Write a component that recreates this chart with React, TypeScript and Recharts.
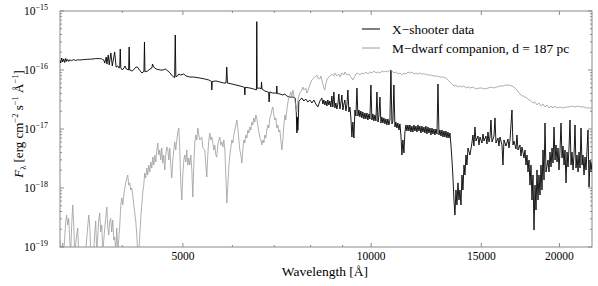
import { Customized, Line, LineChart, XAxis, YAxis } from "recharts";

// wavelength in Angstrom, flux in units of 1e-17 erg cm^-2 s^-1 A^-1
const XSHOOTER: [number, number][] = [
  [3180, 14.5], [3189, 13.2], [3200, 16.0], [3212, 13.7], [3224, 15.4], [3236, 13.4], [3248, 15.7], [3259, 14.0],
  [3271, 15.1], [3284, 14.0], [3296, 14.9], [3320, 14.4], [3345, 15.0], [3369, 14.5], [3394, 14.9], [3420, 14.8],
  [3471, 15.0], [3523, 15.2], [3574, 15.3], [3627, 15.6], [3681, 15.6], [3708, 15.4], [3722, 15.0],
  [3736, 14.8], [3750, 13.1], [3770, 16.6], [3780, 12.6], [3798, 18.0], [3812, 12.2], [3835, 19.4], [3855, 11.7],
  [3889, 20.2], [3910, 11.2], [3935, 11.7], [3950, 10.8], [3962, 11.0], [3970, 22.7], [3978, 10.9], [4000, 10.0],
  [4025, 10.8], [4040, 11.7], [4060, 10.4], [4094, 10.0], [4102, 24.5], [4110, 10.0], [4150, 9.62], [4180, 10.4],
  [4205, 11.2], [4230, 11.2], [4260, 10.0], [4300, 8.89], [4332, 9.5], [4340, 29.8], [4348, 9.3], [4390, 9.62],
  [4430, 10.4], [4460, 10.8], [4471, 12.6], [4490, 11.2], [4530, 10.4], [4600, 10.0], [4650, 10.0], [4686, 10.4],
  [4730, 9.62], [4770, 8.89], [4810, 7.91], [4850, 7.4], [4861, 39.2], [4872, 7.7], [4900, 7.91], [4925, 8.55],
  [4960, 8.22], [5015, 8.55], [5060, 7.91], [5130, 7.6], [5200, 7.6], [5321, 7.31],
  [5420, 7.04], [5500, 6.77], [5540, 6.51], [5555, 6.4], [5562, 4.58], [5570, 6.4], [5650, 6.51], [5730, 6.26],
  [5810, 6.02], [5860, 6.0], [5876, 11.2], [5892, 6.0], [5990, 5.79], [6080, 5.57], [6170, 5.36], [6250, 5.15],
  [6272, 5.1], [6281, 3.77], [6290, 5.1], [6400, 4.95], [6490, 4.76], [6555, 4.6], [6563, 66], [6572, 4.9],
  [6640, 4.95], [6670, 4.8], [6678, 6.26], [6690, 4.76], [6760, 4.41], [6836, 4.24], [6855, 4.2], [6868, 2.87],
  [6885, 4.24], [6960, 4.07], [7040, 4.07], [7058, 4.0], [7065, 5.36], [7075, 4.0], [7145, 3.92], [7224, 3.77],
  [7277, 3.92], [7331, 3.62], [7413, 3.48], [7495, 3.48], [7560, 3.35], [7590, 1.94], [7607, 0.855], [7620, 1.6],
  [7635, 0.95], [7650, 1.54], [7663, 2.98], [7691, 3.1],
  [7748, 3.35], [7805, 2.98], [7862, 3.22], [7920, 2.87], [7980, 3.1], [8039, 2.76], [8098, 3.1], [8158, 2.65],
  [8218, 2.36], [8279, 2.98],
  [8340, 3.35], [8371, 2.65], [8402, 3.1], [8433, 2.55], [8464, 2.98], [8496, 2.45], [8527, 3.1], [8558, 2.55],
  [8590, 2.98], [8622, 2.36], [8653, 3.62], [8685, 2.36], [8717, 4.24], [8750, 2.27], [8782, 2.76], [8815, 2.18],
  [8847, 2.65], [8880, 3.92], [8913, 2.18], [8946, 2.76], [8979, 3.77], [9012, 2.1], [9045, 2.65], [9078, 3.1],
  [9112, 2.02], [9146, 2.55], [9179, 4.58], [9213, 1.94], [9247, 2.36], [9281, 1.54], [9316, 0.731], [9350, 1.31],
  [9385, 0.703], [9420, 2.1], [9454, 1.66], [9490, 4.95], [9525, 1.66], [9560, 2.1], [9594, 1.6], [9630, 2.02],
  [9665, 1.54], [9701, 1.94], [9737, 1.48], [9773, 1.87], [9809, 1.48], [9845, 1.87], [9881, 1.42], [9918, 1.8],
  [9954, 1.48], [9991, 5.57], [10028, 1.42], [10065, 1.8], [10102, 1.37], [10140, 1.73], [10177, 1.37], [10215, 4.24],
  [10253, 1.31], [10290, 1.66], [10328, 3.48], [10366, 1.26], [10404, 1.6], [10443, 1.26], [10481, 1.54], [10520, 1.22],
  [10558, 1.48], [10597, 1.17], [10636, 1.48], [10676, 1.17], [10715, 1.42], [10755, 10.0], [10794, 1.22], [10834, 1.37],
  [10874, 5.57], [10914, 1.08], [10955, 1.31], [10995, 1.04], [11036, 1.26], [11077, 0.962], [11117, 1.22], [11158, 0.791],
  [11199, 0.362], [11240, 0.652], [11282, 0.392], [11324, 0.889], [11366, 1.17], [11408, 0.925], [11450, 1.17], [11492, 0.925],
  [11535, 1.17], [11577, 0.889], [11620, 1.12], [11663, 0.889], [11706, 1.17], [11749, 0.925], [11792, 1.12], [11836, 0.889],
  [11880, 1.17], [11924, 0.925], [11967, 1.12], [12012, 0.855], [12056, 1.12], [12100, 0.889], [12145, 1.08], [12190, 0.855],
  [12235, 1.12], [12280, 0.822], [12326, 1.08], [12371, 0.855], [12417, 1.04], [12463, 0.791], [12509, 1.04], [12555, 0.822],
  [12601, 1.0], [12648, 0.791], [12695, 1.0], [12742, 0.822], [12789, 5.79], [12836, 0.791], [12882, 0.962], [12930, 0.76],
  [12978, 0.962], [13026, 0.731], [13074, 0.925], [13122, 0.731], [13170, 0.925], [13219, 0.703], [13268, 0.889], [13317, 0.703],
  [13366, 0.855], [13415, 0.536], [13465, 0.298],
  [13514, 0.154], [13564, 0.0626], [13614, 0.0348], [13665, 0.0925], [13715, 0.0515], [13766, 0.122], [13817, 0.0626], [13868, 0.0925],
  [13920, 0.0515], [13971, 0.166], [14022, 0.0925], [14074, 0.245], [14126, 0.166], [14178, 0.362], [14230, 0.245], [14283, 0.476],
  [14388, 0.362],
  [14492, 0.579], [14546, 0.791], [14600, 0.515], [14654, 1.08], [14708, 0.626], [14818, 0.76], [14873, 0.536], [14928, 0.731],
  [15038, 0.579], [15094, 0.822], [15150, 0.626], [15262, 0.76], [15318, 0.557], [15375, 0.889], [15431, 0.603], [15488, 0.731],
  [15545, 1.42], [15603, 0.603], [15718, 0.76], [15776, 1.54], [15834, 0.579], [15951, 0.703], [16010, 0.515], [16069, 0.731],
  [16188, 0.536], [16248, 0.245], [16308, 0.652], [16428, 0.515], [16550, 0.677], [16611, 0.476], [16672, 0.652], [16795, 2.1],
  [16857, 0.536], [16919, 0.626], [17044, 0.458], [17107, 0.791], [17171, 0.441], [17298, 0.536], [17362, 0.348], [17426, 0.495],
  [17555, 0.322], [17620, 0.441], [17685, 0.245], [17750, 0.362], [17816, 0.187], [17881, 0.298], [17947, 0.112], [18013, 0.245],
  [18080, 0.0626], [18147, 0.166], [18214, 0.0194], [18281, 0.112], [18349, 0.0424], [18416, 0.202], [18484, 0.0626], [18552, 0.166],
  [18621, 0.076], [18690, 0.245], [18759, 0.0925], [18828, 0.441], [18898, 0.137], [18967, 1.26], [19037, 0.187], [19178, 0.298],
  [19249, 0.187], [19320, 0.407], [19391, 0.227], [19463, 0.476], [19535, 0.265], [19607, 1.08], [19680, 0.298], [19752, 0.536],
  [19825, 0.276], [19898, 0.476], [19971, 0.202], [20045, 0.441], [20119, 1.26], [20193, 0.322], [20268, 0.515], [20343, 0.245],
  [20418, 0.441], [20493, 0.122], [20569, 0.407], [20645, 0.227], [20721, 0.476], [20797, 1.42], [20874, 0.245], [20951, 0.407],
  [21028, 0.202], [21106, 0.362], [21184, 1.17], [21262, 0.218], [21340, 0.362], [21419, 0.187], [21498, 0.407], [21577, 0.218],
  [21657, 1.04], [21737, 0.245], [21817, 0.362], [21897, 0.166], [21978, 0.335], [22059, 0.202], [22140, 0.441], [22222, 0.962],
  [22304, 0.104], [22387, 0.298], [22470, 0.187], [22553, 0.276],
];

// M-dwarf template scaled to 187 pc (values below 1e-19 sit under the frame)
const MDWARF: [number, number][] = [
  [3180, 0.0131], [3189, 0.008], [3212, 0.0117], [3224, 0.008], [3248, 0.0276], [3259, 0.0348], [3271, 0.0236], [3284, 0.0305],
  [3296, 0.0131], [3308, 0.008], [3320, 0.0236], [3333, 0.0515], [3345, 0.0236], [3357, 0.008], [3382, 0.016], [3394, 0.021],
  [3407, 0.008], [3495, 0.008], [3507, 0.0131], [3535, 0.0348], [3548, 0.0236], [3561, 0.008], [3600, 0.008], [3614, 0.0173],
  [3627, 0.0276], [3640, 0.008], [3668, 0.0287], [3681, 0.0377], [3695, 0.018], [3708, 0.0236], [3722, 0.008], [3736, 0.0131],
  [3750, 0.021], [3778, 0.0476], [3792, 0.021], [3805, 0.016], [3819, 0.0276], [3833, 0.0305], [3847, 0.018], [3862, 0.0287],
  [3876, 0.0131], [3890, 0.0148], [3905, 0.008], [3919, 0.021], [3934, 0.008], [3963, 0.0236], [3978, 0.0515], [3992, 0.068],
  [4007, 0.0515], [4022, 0.076], [4037, 0.1], [4052, 0.122], [4066, 0.148], [4081, 0.166], [4096, 0.112], [4111, 0.122],
  [4126, 0.0925], [4141, 0.1], [4157, 0.076], [4172, 0.0515], [4188, 0.0377], [4203, 0.0276], [4219, 0.016], [4234, 0.008],
  [4250, 0.008], [4266, 0.016], [4281, 0.0305], [4297, 0.0515], [4313, 0.0855], [4329, 0.112], [4345, 0.18], [4361, 0.148],
  [4377, 0.218], [4393, 0.166], [4409, 0.245], [4426, 0.187], [4442, 0.276], [4459, 0.218], [4475, 0.335], [4492, 0.245],
  [4508, 0.362], [4525, 0.276], [4542, 0.441], [4558, 0.579], [4575, 0.362], [4592, 0.441], [4609, 0.298], [4626, 0.476],
  [4643, 0.265], [4660, 0.362], [4677, 0.202], [4694, 0.362], [4712, 0.495], [4730, 0.441], [4747, 0.298], [4764, 0.476],
  [4782, 0.245], [4799, 0.148], [4817, 0.298], [4835, 0.441], [4853, 0.603], [4871, 0.441], [4889, 0.652], [4907, 0.889],
  [4925, 1.04], [4943, 0.441], [4961, 0.122], [4980, 0.0626], [4998, 0.166], [5017, 0.298], [5035, 0.362], [5054, 0.276],
  [5072, 0.441], [5091, 0.245], [5110, 0.322], [5129, 0.245], [5148, 0.362], [5167, 0.202], [5186, 0.0703], [5205, 0.245],
  [5224, 0.579], [5243, 0.791], [5263, 0.652], [5282, 1.04], [5302, 0.791], [5321, 0.652], [5360, 0.731], [5380, 0.476],
  [5420, 0.441], [5440, 0.245], [5460, 0.154], [5480, 0.362], [5500, 0.652], [5521, 0.855], [5541, 0.652], [5562, 0.731],
  [5582, 0.579], [5603, 0.441], [5623, 0.536], [5644, 0.362], [5665, 0.335], [5686, 0.536], [5707, 0.652], [5728, 0.731],
  [5749, 0.536], [5770, 0.603], [5792, 0.495], [5813, 0.652], [5835, 0.441], [5856, 0.166], [5878, 0.0557], [5899, 0.112],
  [5921, 0.227], [5943, 0.362], [5965, 0.476], [5987, 0.652], [6009, 0.579], [6031, 0.791], [6053, 0.962], [6076, 1.17],
  [6098, 1.42], [6121, 1.04], [6144, 0.652], [6166, 0.441], [6189, 0.362], [6212, 0.265], [6235, 0.441], [6258, 0.652],
  [6281, 0.579], [6304, 0.791], [6328, 0.703], [6351, 0.962], [6374, 0.855], [6397, 1.08], [6421, 0.962], [6445, 1.31],
  [6468, 1.17], [6492, 1.54], [6516, 1.31], [6541, 1.73], [6563, 1.54], [6587, 1.17], [6612, 0.889], [6637, 0.731],
  [6662, 0.652], [6686, 0.536], [6711, 0.652], [6736, 0.579], [6760, 0.791], [6785, 0.703], [6811, 0.962], [6836, 1.17],
  [6861, 1.04], [6887, 1.54], [6912, 1.73], [6937, 2.1], [6963, 2.36], [6988, 1.73], [7014, 1.42], [7040, 1.54],
  [7066, 1.04], [7092, 1.17], [7119, 0.889], [7145, 0.962], [7171, 0.652], [7198, 0.441], [7224, 0.652], [7251, 1.17],
  [7277, 1.73], [7304, 1.42], [7331, 2.1], [7358, 2.76], [7385, 3.48], [7413, 3.77], [7440, 4.24], [7468, 3.48],
  [7495, 4.58], [7523, 3.77], [7551, 3.1], [7579, 2.36], [7607, 1.94], [7635, 3.1], [7663, 3.62], [7691, 4.07],
  [7748, 4.58], [7776, 5.15], [7805, 4.58], [7862, 4.95], [7891, 4.07], [7920, 4.41], [7980, 5.57], [8039, 6.77],
  [8098, 7.31], [8158, 7.91], [8188, 8.22], [8218, 7.31], [8279, 7.04], [8309, 7.91], [8340, 6.77], [8371, 5.79],
  [8402, 4.95], [8433, 4.58], [8464, 5.79], [8496, 6.77], [8527, 7.31], [8590, 7.91], [8653, 8.55], [8717, 7.91],
  [8750, 8.89], [8815, 7.91], [8880, 8.55], [8913, 7.6], [8979, 8.89], [9045, 8.22], [9078, 9.25], [9146, 8.22],
  [9213, 8.55], [9281, 7.6], [9350, 6.77], [9385, 7.31], [9454, 8.55], [9525, 8.89], [9594, 8.22], [9665, 8.89],
  [9737, 8.55], [9809, 9.25], [9881, 8.55], [9954, 9.25], [10028, 8.89], [10102, 9.62], [10177, 8.89], [10253, 9.25],
  [10328, 8.89], [10404, 9.62], [10481, 9.25], [10558, 9.62], [10636, 9.25], [10715, 10.0], [10794, 9.62], [10874, 8.89],
  [10955, 9.25], [11036, 8.55], [11117, 8.89], [11199, 8.22], [11282, 8.89], [11366, 8.55], [11450, 9.25], [11535, 8.89],
  [11620, 9.25], [11706, 8.55], [11792, 8.89], [11880, 8.55], [11967, 8.89], [12056, 8.55], [12190, 8.55], [12326, 8.22],
  [12463, 8.22], [12601, 7.91], [12742, 7.91], [12882, 7.6], [13026, 7.6], [13170, 7.31], [13268, 6.77], [13366, 6.26],
  [13465, 5.79], [13564, 5.36], [13665, 5.57], [13766, 5.15], [13868, 5.36], [13971, 5.15], [14074, 5.36], [14178, 4.95],
  [14283, 5.15], [14388, 4.95], [14546, 5.15], [14708, 4.76], [14873, 4.95], [15038, 4.95], [15206, 4.76], [15375, 4.95],
  [15545, 5.15], [15718, 4.95], [15892, 5.15], [16069, 5.36], [16248, 5.36], [16428, 5.57], [16611, 5.57], [16795, 5.36],
  [16982, 4.95], [17107, 4.58], [17234, 4.07], [17362, 3.77], [17490, 3.62], [17620, 3.48], [17750, 3.35], [17881, 3.1],
  [18013, 2.98], [18147, 2.76], [18281, 2.87], [18416, 2.55], [18552, 2.76], [18690, 2.45], [18828, 2.65], [18967, 2.36],
  [19107, 2.55], [19249, 2.27], [19391, 2.45], [19535, 2.27], [19680, 2.45], [19825, 2.27], [20045, 2.36], [20268, 2.27],
  [20493, 2.36], [20721, 2.36], [20951, 2.45], [21184, 2.36], [21419, 2.45], [21657, 2.36], [21897, 2.36], [22140, 2.27],
  [22387, 2.27], [22553, 2.27],
];

const WAVE_MAJOR = [5000, 10000, 15000, 20000];
const WAVE_MINOR = [4000, 6000, 7000, 8000, 9000];
const FLUX_MAJOR = [0.01, 0.1, 1, 10, 100];
const FLUX_MINOR = [
  0.02, 0.03, 0.04, 0.05, 0.06, 0.07, 0.08, 0.09,
  0.2, 0.3, 0.4, 0.5, 0.6, 0.7, 0.8, 0.9,
  2, 3, 4, 5, 6, 7, 8, 9,
  20, 30, 40, 50, 60, 70, 80, 90,
];

const SERIF = '"Liberation Serif", "Times New Roman", "DejaVu Serif", serif';
const FRAME = "#8a8a8a";
const GREY = "#9c9c9c";
const PLOT = { left: 60, right: 592, top: 11, bottom: 247 };

const xshooterData = XSHOOTER.map(([wave, flux]) => ({ wave, flux }));
const mdwarfData = MDWARF.map(([wave, flux]) => ({ wave, flux }));

function WaveTick(props: any) {
  const { x, payload } = props;
  const major = WAVE_MAJOR.includes(payload.value);
  const len = major ? 4 : 2;
  return (
    <g>
      <line x1={x} x2={x} y1={PLOT.bottom} y2={PLOT.bottom - len} stroke={FRAME} />
      <line x1={x} x2={x} y1={PLOT.top} y2={PLOT.top + len} stroke={FRAME} />
      {major && (
        <text x={x} y={PLOT.bottom + 13} textAnchor="middle" fill="#000" style={{ fontFamily: SERIF, fontSize: 11.5 }}>
          {payload.value}
        </text>
      )}
    </g>
  );
}

function FluxTick(props: any) {
  const { y, payload } = props;
  const lg = Math.log10(payload.value);
  const major = Math.abs(lg - Math.round(lg)) < 1e-6;
  const len = major ? 4 : 2;
  const exp = Math.round(lg) - 17;
  return (
    <g>
      <line x1={PLOT.left} x2={PLOT.left + len} y1={y} y2={y} stroke={FRAME} />
      <line x1={PLOT.right} x2={PLOT.right - len} y1={y} y2={y} stroke={FRAME} />
      {major && (
        <text x={48} y={y + 4} textAnchor="end" fill="#000" style={{ fontFamily: SERIF, fontSize: 11.5 }}>
          10
          <tspan dy={-5} style={{ fontSize: 8 }}>
            {"\u2212" + Math.abs(exp)}
          </tspan>
        </text>
      )}
    </g>
  );
}

function Overlay() {
  const txt = { fontFamily: SERIF, fontSize: 13.4 };
  const sup = { fontSize: 8.5 };
  return (
    <g fill="#000">
      <rect
        x={PLOT.left}
        y={PLOT.top}
        width={PLOT.right - PLOT.left}
        height={PLOT.bottom - PLOT.top}
        fill="none"
        stroke={FRAME}
      />
      <text x={325} y={276} textAnchor="middle" style={{ fontFamily: SERIF, fontSize: 13.5 }}>
        Wavelength [Å]
      </text>
      <text transform="translate(23,124) rotate(-90)" textAnchor="middle" style={{ fontFamily: SERIF, fontSize: 13 }}>
        <tspan style={{ fontStyle: "italic" }}>F</tspan>
        <tspan dy={3} style={sup}>λ</tspan>
        <tspan dy={-3}> [erg cm</tspan>
        <tspan dy={-5} style={sup}>−2</tspan>
        <tspan dy={5}> s</tspan>
        <tspan dy={-5} style={sup}>−1</tspan>
        <tspan dy={5}> Å</tspan>
        <tspan dy={-5} style={sup}>−1</tspan>
        <tspan dy={5}>]</tspan>
      </text>
      <line x1={362} x2={380} y1={29} y2={29} stroke="#000" strokeWidth={1} />
      <text x={392} y={33.5} style={txt}>
        X−shooter data
      </text>
      <line x1={362} x2={380} y1={48} y2={48} stroke={GREY} strokeWidth={1} />
      <text x={392} y={52.5} style={txt}>
        M−dwarf companion, d = 187 pc
      </text>
    </g>
  );
}

export default function App() {
  return (
    <div style={{ width: 598, height: 286, background: "#fff" }}>
      <style>{"body{margin:0}"}</style>
      <LineChart width={598} height={286} margin={{ top: 11, right: 6, bottom: 0, left: 0 }}>
        <XAxis
          dataKey="wave"
          type="number"
          scale="log"
          domain={[3180, 22550]}
          allowDataOverflow
          ticks={[...WAVE_MAJOR, ...WAVE_MINOR]}
          interval={0}
          tick={<WaveTick />}
          tickLine={false}
          axisLine={false}
          height={39}
        />
        <YAxis
          type="number"
          scale="log"
          domain={[0.01, 100]}
          allowDataOverflow
          ticks={[...FLUX_MAJOR, ...FLUX_MINOR]}
          interval={0}
          tick={<FluxTick />}
          tickLine={false}
          axisLine={false}
          width={60}
        />
        <Line
          data={xshooterData}
          dataKey="flux"
          stroke="#000"
          strokeWidth={0.9}
          dot={false}
          isAnimationActive={false}
        />
        <Line
          data={mdwarfData}
          dataKey="flux"
          stroke={GREY}
          strokeWidth={0.8}
          dot={false}
          isAnimationActive={false}
        />
        <Customized component={<Overlay />} />
      </LineChart>
    </div>
  );
}
